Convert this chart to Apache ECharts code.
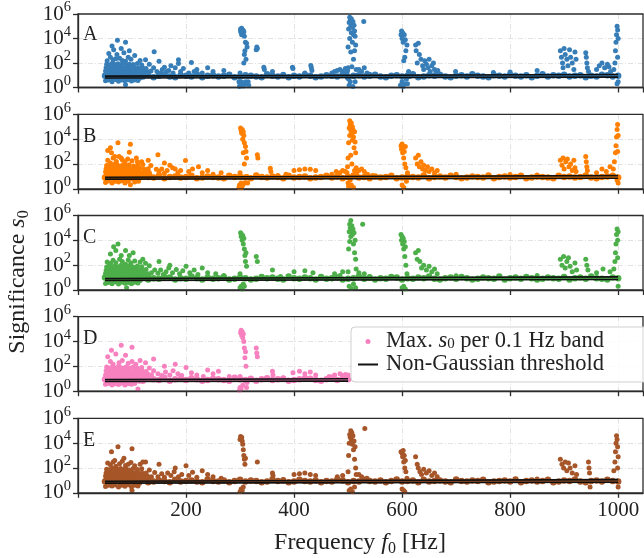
<!DOCTYPE html>
<html>
<head>
<meta charset="utf-8">
<script src="https://cdn.jsdelivr.net/npm/echarts@6/dist/echarts.min.js"></script>
<style>html,body{margin:0;padding:0;background:#fff}#c{width:644px;height:558px}</style>
</head>
<body>
<div id="c"></div>
<script>
// ---------------- DATA ----------------
const panelLetters = ['A', 'B', 'C', 'D', 'E'];
const xTicks = [200, 400, 600, 800, 1000];
const yTickExps = [0, 2, 4, 6];

// frequencies of the dense band of points sitting on the threshold
const bandFreqs = [50,60,70,80,90,100,110,120,130,140,150,160,170,180,190,200,210,220,230,240,250,260,270,280,290,300,310,320,330,340,350,360,370,380,390,400,410,420,430,440,450,460,470,480,490,500,510,520,530,540,550,560,570,580,590,600,610,620,630,640,650,660,670,680,690,700,710,720,730,740,750,760,770,780,790,800,810,820,830,840,850,860,870,880,890,900,910,920,930,940,950,960,970,980,990,1000];

const bandA = [9,7,10,8,11,7,9,8,10,7,9,11,8,7,10,9,8,12,7,9,10,8,9,11,7,8,10,9,8,7,12,9,8,10,7,9,8,11,9,7,8,10,9,8,12,7,9,10,8,9,11,8,7,9,10,8,9,12,7,8,10,9,11,8,7,9,10,8,12,9,8,7,10,9,8,11,9,8,10,7,9,12,8,10,9,11,8,9,10,7,9,8,11,10,8,9];
const bandB = [8,10,7,9,11,8,7,10,9,8,12,7,9,10,8,9,11,7,8,10,9,8,7,11,9,10,8,7,12,9,8,10,9,7,11,8,9,10,7,8,9,11,8,10,7,9,12,8,9,7,10,8,9,11,7,8,10,9,8,12,7,9,10,8,11,9,7,8,10,9,8,12,7,9,10,8,9,11,7,8,10,9,8,7,11,9,10,8,9,12,8,7,9,10,11,8];
const bandC = [10,8,9,7,11,9,8,10,7,9,8,11,10,7,9,8,12,9,7,10,8,9,11,7,8,10,9,7,8,11,9,10,8,7,12,9,8,10,9,7,11,8,9,10,7,8,9,12,8,10,7,9,8,11,10,7,9,8,10,9,12,8,7,9,10,8,11,9,7,8,10,9,8,12,7,9,10,8,11,9,7,8,10,9,8,11,7,9,10,8,12,9,8,7,10,9];
const bandD = [9,8,10,7,11,9,8,7,10,9,8,12,7,9,10,8,11,9,7,8,10,9,8,7,12,9,8,10,7,9,11,8,9,10,7,8,9,11,10,8,7,9,12,8,10,9];
const bandE = [8,9,11,7,10,8,9,12,7,8,10,9,7,11,8,9,10,8,7,12,9,8,10,7,9,11,8,10,9,7,8,12,9,10,7,8,11,9,8,10,7,9,8,12,10,7,9,8,11,9,8,10,7,9,12,8,9,10,7,11,8,9,10,8,7,12,9,8,10,9,11,7,8,9,10,8,12,7,9,10,8,9,11,7,8,10,9,12,8,7,9,10,8,11,9,8];

// scattered maxima [frequency Hz, s0]
const pointsA = [
 [51,3.5],[57,4],[63,3],[69,4.5],[75,3.2],[81,4],[87,3.6],[93,4.2],[99,3.4],[105,4],[111,3.8],
 [54,6],[66,6.5],[78,5.5],[90,6],[102,6.4],[114,5.6],
 [52,12],[56,14],[61,11],[65,13],[70,12],[74,15],[79,11],[83,13],[88,12],[92,14],[97,11],[101,13],[106,12],[112,14],[118,12],[124,11],[130,13],
 [51,22],[55,25],[59,20],[64,24],[68,21],[73,23],[77,26],[82,20],[86,24],[91,22],[95,25],[100,21],[104,23],[110,20],[116,24],[122,22],[128,19],[135,22],
 [52,40],[57,45],[62,38],[66,42],[71,48],[76,40],[80,44],[85,38],[90,46],[94,40],[99,36],[105,42],[112,38],[119,44],[126,36],[140,40],
 [53,80],[58,70],[63,90],[68,75],[74,85],[79,72],[84,95],[89,70],[95,80],[102,75],[110,90],[118,70],[132,80],
 [54,150],[60,300],[65,180],[70,220],[77,250],[82,160],[88,140],[93,300],[98,200],[105,400],[115,160],[125,180],[150,140],
 [57,600],[63,2500],[66,1200],[72,500],[73,7300],[80,1500],[85,700],[88,5000],[95,1000],[141,830],[88,1.7],
 [146,20],[153,15],[156,30],[160,45],[164,20],[168,25],[172,60],[176,15],[180,40],[186,180],[186,90],[190,20],[195,35],[205,15],[210,110],[215,20],[220,30],[230,15],[240,40],[250,20],[270,25],
 [298,3],[299,1.2],[300,15],[300,1.5],[301,40000],[301,60000],[302,30000],[302,3],[303,70000],[303,20000],[304,50000],[304,2],[305,8],[305,25000],[306,45000],[306,1.3],[307,100],[307,35000],[308,15000],[308,500],[309,2],[309,1000],[310,5000],[310,3],[311,200],[312,4000],[313,2000],[314,8],[315,3],[316,1.5],
 [330,1200],[331,2000],[332,1500],[344,45],[345,30],[360,20],[380,12],[397,45],[398,35],[420,15],[431,62],[432,40],[433,25],
 [470,15],[475,20],[480,25],[485,30],[490,20],[495,35],[498,15],[499,25],[500,40],[500,2000],[501,60000],[501,5],[502,200000],[502,1.5],[503,550000],[503,10000],[504,300000],[504,3],[505,100000],[505,800],[506,400000],[506,30000],[507,150000],[507,50],[508,80000],[508,5000],[509,250000],[509,1.2],[510,20000],[510,200],[511,120000],[511,8],[512,40000],[512,1000],[513,15000],[513,3],[514,3000],[515,30],[516,10],[529,250000],[520,30],[525,20],[530,40],[535,15],[540,12],
 [597,1.5],[598,20000],[599,40000],[600,3],[600,10000],[601,30000],[602,5000],[602,1.2],[603,150],[604,20000],[605,2],[605,300],[606,8000],[607,1000],[608,5],[609,3000],[610,2],[612,20],[614,8],
 [625,3000],[626,1000],[628,100],[630,4000],[632,500],[635,200],[638,60],[640,30],[642,150],[645,80],[648,40],[650,200],[652,20],[655,60],[658,100],[660,30],[663,15],[666,25],
 [699,20],[769,17],[800,18],[850,25],
 [893,1000],[895,300],[897,100],[898,40],[900,1500],[902,500],[905,200],[907,60],[910,1200],[912,300],[915,100],[918,30],[920,800],[922,200],
 [940,700],[941,300],[942,100],[943,40],[945,20],[960,30],[965,60],[970,100],[975,40],[980,80],[983,50],[986,20],
 [992,30],[994,100],[995,1000],[996,5000],[997,20000],[998,100000],[999,50000],[1000,10000],[999,300],[1000,3],[998,2]
];

const pointsB = [
 [51,3.2],[57,4.2],[63,3],[69,4],[75,3.5],[81,4.4],[87,3],[93,4],[97,2.1],[105,3.6],[112,4],
 [53,6],[65,6.5],[77,5.6],[89,6],[101,6.2],[113,5.8],
 [52,13],[56,11],[60,14],[65,12],[69,15],[74,11],[78,13],[83,12],[87,14],[92,11],[96,13],[101,12],[107,14],[113,11],[119,13],[126,12],[133,14],
 [51,24],[55,20],[60,26],[64,22],[69,25],[73,20],[78,23],[82,26],[87,21],[91,24],[96,20],[101,23],[106,22],[113,25],[119,20],[125,23],[132,21],
 [52,42],[56,38],[61,46],[66,40],[70,44],[75,38],[80,48],[85,40],[90,36],[95,44],[100,40],[107,38],[114,46],[122,40],[130,42],[145,38],
 [53,75],[58,85],[63,70],[68,95],[73,80],[78,70],[84,90],[89,75],[95,85],[103,70],[111,80],[120,90],[135,75],
 [55,200],[60,120],[65,300],[71,160],[76,400],[82,220],[87,150],[92,250],[100,180],[108,300],[118,150],[130,200],[160,120],
 [55,1200],[60,2000],[62,800],[68,400],[74,5200],[80,300],[95,890],[97,3900],[110,150],[148,540],[170,80],
 [150,25],[155,40],[160,18],[165,30],[175,50],[180,40],[185,20],[190,30],[199,190],[205,25],[212,40],[223,60],[230,20],[240,30],[250,15],[265,20],
 [298,1.3],[299,2],[300,20],[300,1.5],[301,80000],[302,50000],[302,3],[303,30000],[303,1.2],[304,60000],[305,10000],[305,2],[306,40000],[306,800],[307,20000],[308,5000],[308,100],[309,3],[310,2500],[311,1000],[312,300],[313,10],[314,3],
 [332,540],[333,300],[356,45],[357,25],[370,12],[385,15],[400,30],[410,35],[420,40],[430,38],[440,30],
 [470,15],[478,25],[485,20],[490,30],[495,25],[498,20],[499,60],[500,300],[500,3],[501,5000],[501,1.5],[502,80000],[503,300000],[503,20000],[504,150000],[504,5],[505,50000],[505,500],[506,200000],[506,2],[507,30000],[507,100],[508,100000],[508,8000],[509,60000],[510,15000],[510,1.3],[511,2000],[512,40000],[512,30],[513,6000],[514,800],[515,50],[516,20],[520,30],[525,40],[530,25],[536,15],[545,12],
 [598,3000],[599,1500],[600,4000],[601,800],[602,2000],[603,300],[604,1000],[605,100],[606,2500],[607,50],[600,2],[603,1.3],[608,4],[610,20],[612,8],
 [625,300],[628,100],[630,500],[632,60],[635,150],[638,40],[640,80],[643,30],[647,60],[650,25],[655,40],[660,20],[665,30],
 [700,15],[760,12],[800,14],[850,13],
 [893,200],[896,80],[898,300],[900,40],[903,150],[906,250],[909,60],[912,100],[915,30],[918,200],[920,50],[922,25],
 [940,400],[941,150],[942,60],[943,30],[960,20],[970,40],[978,25],[985,60],
 [991,40],[993,150],[995,800],[996,3000],[997,15000],[998,60000],[999,150000],[1000,20000],[999,1000],[998,5],[1000,3]
];

const pointsC = [
 [51,3.4],[57,4],[63,3.2],[69,4.4],[75,3],[81,4.2],[87,3.5],[93,4],[99,3.2],[105,4.2],[111,3.6],
 [55,6],[67,6.4],[79,5.6],[91,6.2],[103,6],[115,5.8],
 [52,14],[56,12],[61,13],[65,11],[70,14],[74,12],[79,13],[83,11],[88,15],[92,12],[97,13],[101,11],[106,14],[112,12],[118,13],[124,12],[131,14],
 [51,21],[55,24],[59,22],[64,26],[68,20],[73,24],[77,22],[82,25],[86,20],[91,23],[95,22],[100,26],[104,20],[110,24],[116,21],[122,23],[129,20],[136,24],
 [52,38],[57,44],[62,40],[66,46],[71,38],[76,42],[80,40],[85,46],[90,38],[94,42],[99,40],[105,44],[112,40],[119,38],[126,44],[142,40],
 [53,70],[58,90],[63,75],[68,85],[74,70],[79,95],[84,80],[89,72],[95,90],[102,70],[110,85],[118,75],[132,90],
 [54,180],[60,140],[65,250],[70,160],[77,300],[82,200],[88,120],[93,260],[98,150],[105,220],[115,180],[125,140],[150,200],
 [60,800],[66,3000],[70,1500],[74,5000],[80,600],[88,1500],[95,600],[102,1000],[120,300],[170,100],[90,1.5],
 [148,22],[153,40],[158,18],[163,30],[168,60],[175,25],[182,45],[188,20],[194,35],[200,80],[207,25],[215,40],[222,18],[230,60],[240,25],[255,20],[270,15],
 [300,1.5],[302,2],[304,1.2],[306,3],[308,2],[300,20],[301,40000],[302,20000],[303,30000],[304,10000],[305,25000],[306,5000],[307,15000],[308,2000],[309,600],[310,200],[311,1000],[312,80],
 [330,500],[332,200],[360,40],[375,12],[400,30],[420,35],[435,25],
 [475,20],[485,15],[490,30],[500,30],[501,2000],[502,50000],[502,2],[503,200000],[503,8000],[504,100000],[505,400000],[505,20000],[506,60000],[506,1.3],[507,150000],[508,30000],[509,80000],[510,5000],[510,3],[511,40000],[512,1000],[513,10000],[514,300],[514,1.5],[515,50],[527,200000],[520,25],[530,20],[540,12],
 [598,30000],[599,10000],[600,20000],[601,5000],[602,15000],[603,2000],[604,8000],[605,500],[606,3000],[607,100],[600,1.5],[603,2],[606,1.2],[609,20],[612,8],
 [625,1000],[628,300],[630,1500],[633,200],[636,60],[640,100],[645,40],[650,80],[655,30],[660,50],[665,20],
 [700,14],[780,12],[850,15],
 [893,300],[896,100],[899,500],[902,60],[905,200],[908,400],[911,80],[915,30],[920,150],[923,40],
 [940,300],[942,100],[944,40],[960,25],[972,50],[985,30],
 [992,50],[994,200],[995,1000],[996,5000],[997,30000],[998,80000],[999,10000],[1000,50000],[999,400],[1000,2]
];

const pointsD = [
 [51,3.6],[57,4.2],[63,3.2],[69,4],[75,3.4],[81,4.4],[87,3.2],[93,4],[99,3.6],[105,4.2],[111,1.5],
 [54,6.2],[66,5.8],[78,6.4],[90,5.6],[102,6],[114,6.2],
 [52,11],[56,13],[61,12],[65,14],[70,11],[74,13],[79,12],[83,14],[88,11],[92,13],[97,12],[101,14],[106,11],[112,13],[118,14],[124,12],[131,11],
 [51,20],[55,23],[59,26],[64,21],[68,24],[73,22],[77,20],[82,25],[86,22],[91,20],[95,24],[100,22],[104,26],[110,21],[116,23],[122,20],[129,24],[136,21],
 [52,44],[57,40],[62,36],[66,44],[71,40],[76,46],[80,38],[85,42],[90,40],[94,46],[99,38],[105,40],[112,44],[119,40],[126,38],[140,44],
 [53,90],[58,75],[63,80],[68,70],[74,95],[79,80],[84,70],[89,88],[95,75],[102,90],[110,70],[118,80],[132,75],
 [55,600],[60,250],[65,150],[70,1000],[76,200],[82,300],[88,800],[93,180],[100,250],[107,150],[115,300],[125,200],[140,400],
 [62,2000],[80,5000],[100,3500],[160,100],[180,150],[200,80],[240,50],[260,40],
 [148,25],[155,18],[162,35],[170,20],[176,45],[185,25],[192,18],[210,30],[220,20],[232,15],[250,25],[280,15],
 [299,1.2],[300,2],[300,15],[301,50000],[302,80000],[302,1.5],[303,30000],[304,60000],[305,20000],[305,3],[306,40000],[307,10000],[308,3000],[309,500],[310,1500],[311,100],[312,2],[313,5],
 [330,3000],[331,1200],[332,600],[360,40],[361,20],[380,12],[398,30],[410,40],[420,25],[430,35],[440,20],[465,15],[475,20],[485,25],[490,18],[495,22],[500,20]
];

const pointsE = [
 [51,3.2],[57,4],[63,3.6],[69,4.2],[75,3],[81,4],[87,3.4],[93,4.4],[99,3],[105,4],[111,3.5],
 [54,5.8],[66,6.2],[78,6],[90,5.6],[102,6.4],[114,6],
 [52,13],[56,12],[61,14],[65,11],[70,13],[74,12],[79,14],[83,11],[88,13],[92,12],[97,14],[101,11],[106,13],[112,12],[118,14],[124,11],[131,13],
 [51,23],[55,21],[59,25],[64,20],[68,23],[73,26],[77,21],[82,24],[86,22],[91,26],[95,21],[100,24],[104,22],[110,25],[116,20],[122,24],[129,22],[136,20],
 [52,40],[57,38],[62,44],[66,40],[71,46],[76,38],[80,42],[85,44],[90,40],[94,38],[99,46],[105,40],[112,42],[119,38],[126,40],[142,44],
 [53,80],[58,72],[63,95],[68,70],[74,80],[79,90],[84,75],[89,85],[95,70],[102,90],[110,75],[118,85],[132,70],
 [55,250],[60,180],[65,300],[70,140],[77,220],[82,350],[88,160],[93,200],[98,280],[105,150],[115,200],[125,300],[150,200],
 [62,2000],[68,400],[74,5000],[85,600],[100,3500],[120,300],[180,100],[200,150],[230,60],[100,1.5],
 [148,20],[155,35],[160,18],[166,40],[172,25],[178,50],[186,20],[192,30],[205,25],[212,45],[220,18],[240,30],[250,20],[265,15],
 [300,1.2],[302,2],[304,1.5],[306,3],[300,20000],[301,35000],[302,25000],[303,30000],[304,15000],[305,8000],[306,3000],[307,1000],[308,500],[309,200],[310,600],
 [332,300],[360,40],[361,25],[380,12],[400,30],[410,35],[420,40],[430,30],[440,25],
 [480,20],[490,25],[500,50],[501,1000],[502,10000],[502,1.5],[503,50000],[504,30000],[505,100000],[505,2],[506,20000],[507,70000],[508,8000],[508,1.2],[509,40000],[510,3000],[511,15000],[512,500],[512,3],[513,5000],[514,100],[515,30],[531,150000],[520,30],[525,20],[535,15],
 [598,2000],[600,1500],[601,800],[602,2500],[603,300],[604,1000],[605,100],[606,400],[607,50],[600,2],[603,1.5],[605,1.2],[609,15],
 [625,800],[628,200],[630,100],[633,50],[636,30],[640,80],[645,40],[650,60],[655,25],[660,40],[665,20],
 [700,12],[850,13],
 [893,500],[896,200],[899,100],[902,300],[905,60],[908,250],[911,100],[915,40],[920,150],[923,30],
 [945,300],[946,100],[947,40],[948,3],
 [992,60],[994,300],[995,2000],[996,10000],[997,40000],[998,20000],[999,5000],[1000,800],[999,100],[1000,3]
];

// non-Gaussian threshold (lower and upper edge)
const thrLowFull = [[50, 6], [1000, 7]];
const thrHighFull = [[50, 8.5], [1000, 11.5]];
const thrLowD = [[50, 6], [500, 6.5]];
const thrHighD = [[50, 8.5], [500, 10]];

// ---------------- CHART ----------------
const FONT = '"Liberation Serif", "DejaVu Serif", serif';
const colors = ['#377eb8', '#ff7f00', '#4daf4a', '#f781bf', '#a65628'];
const pointSets = [pointsA, pointsB, pointsC, pointsD, pointsE];
const bandSets = [bandA, bandB, bandC, bandD, bandE];
const thrLows = [thrLowFull, thrLowFull, thrLowFull, thrLowD, thrLowFull];
const thrHighs = [thrHighFull, thrHighFull, thrHighFull, thrHighD, thrHighFull];

const tops = [13, 114.3, 215.5, 316.7, 418.3];
const H = 74.5, LEFT = 78, W = 565;
const gridLine = { color: '#dcdcdc', width: 0.8, type: [5, 2, 1, 2] };
const axisCol = '#2b2b2b';
const TICK_FS = 21;

const grids = [], xAxes = [], yAxes = [], series = [], graphics = [];
tops.forEach((t, i) => {
  grids.push({ left: LEFT, top: t, width: W, height: H, show: true, borderColor: axisCol, borderWidth: 1.3, backgroundColor: 'transparent', containLabel: false, z: 5 });
  xAxes.push({
    gridIndex: i, type: 'value', min: 0, max: 1046, interval: 200,
    axisLine: { show: true, onZero: false, lineStyle: { color: axisCol, width: 1.3 } },
    axisTick: { show: true, length: 5, lineStyle: { color: axisCol, width: 1.3 } },
    axisLabel: { show: i === 4, fontFamily: FONT, fontSize: TICK_FS, color: '#222', margin: 7, showMaxLabel: false,
      formatter: v => (xTicks.indexOf(v) >= 0 ? String(v) : '') },
    splitLine: { show: true, showMinLine: false, showMaxLine: false, lineStyle: gridLine }
  });
  yAxes.push({
    gridIndex: i, type: 'log', logBase: 10, min: 1, max: 1e6, interval: 2,
    axisLine: { show: true, lineStyle: { color: axisCol, width: 1.3 } },
    axisTick: { show: true, length: 5, lineStyle: { color: axisCol, width: 1.3 } },
    minorTick: { show: false },
    axisLabel: { fontFamily: FONT, fontSize: TICK_FS, color: '#222', margin: 7,
      formatter: v => { const e = Math.round(Math.log10(v)); return yTickExps.indexOf(e) >= 0 ? '{b|10}{s|' + e + '}' : ''; },
      rich: { b: { fontFamily: FONT, fontSize: TICK_FS, lineHeight: 28, color: '#222' }, s: { fontFamily: FONT, fontSize: 14.5, lineHeight: 14, verticalAlign: 'top', color: '#222' } } },
    splitLine: { show: true, showMinLine: false, showMaxLine: false, lineStyle: gridLine }
  });
  series.push({
    name: 'sc' + panelLetters[i], type: 'scatter', xAxisIndex: i, yAxisIndex: i,
    data: pointSets[i], symbolSize: 5, itemStyle: { color: colors[i], opacity: 1 }, z: 2, silent: true
  });
  series.push({
    name: 'band' + panelLetters[i], type: 'scatter', xAxisIndex: i, yAxisIndex: i,
    data: bandSets[i].map((v, k) => [bandFreqs[k], v]), symbolSize: 6.5, itemStyle: { color: colors[i], opacity: 1 }, z: 2, silent: true
  });
  series.push({ name: 'thr' + panelLetters[i], type: 'line', xAxisIndex: i, yAxisIndex: i, data: thrLows[i], symbol: 'none', itemStyle: { color: '#111' }, lineStyle: { color: '#111', width: 1.6 }, z: 4, silent: true });
  series.push({ name: 'thrb' + panelLetters[i], type: 'line', xAxisIndex: i, yAxisIndex: i, data: thrHighs[i], symbol: 'none', itemStyle: { color: '#111' }, lineStyle: { color: '#111', width: 1.6 }, z: 4, silent: true });
  graphics.push({ type: 'text', left: 83, top: t + 12, style: { text: panelLetters[i], font: '20px ' + FONT, fill: '#222' } });
});

const titleRich = {
  t: { fontFamily: FONT, fontSize: 24, lineHeight: 28, fill: '#222' },
  i: { fontFamily: FONT, fontStyle: 'italic', fontSize: 24, lineHeight: 28, fill: '#222' },
  u: { fontFamily: FONT, fontSize: 16, lineHeight: 16, verticalAlign: 'bottom', fill: '#222' }
};
graphics.push({ type: 'text', x: 360, y: 543, style: { text: '{t|Frequency }{i|f}{u|0}{t| [Hz]}', align: 'center', verticalAlign: 'middle', rich: titleRich } });
graphics.push({ type: 'text', x: 18, y: 282, rotation: Math.PI / 2, style: { text: '{t|Significance }{i|s}{u|0}', align: 'center', verticalAlign: 'middle', rich: titleRich } });
// legend frame (extends past the right edge, as in the reference)
graphics.push({ type: 'rect', z: 50, shape: { x: 351, y: 327, width: 310, height: 55, r: 4 },
  style: { fill: 'rgba(255,255,255,0.85)', stroke: '#cfcfcf', lineWidth: 1 } });

const LFS = 22.5;
const chart = echarts.init(document.getElementById('c'), null, { renderer: 'canvas' });
chart.setOption({
  animation: false,
  backgroundColor: '#fff',
  grid: grids, xAxis: xAxes, yAxis: yAxes, series: series, graphic: graphics,
  legend: {
    z: 60,
    data: [{ name: 'scD', icon: 'circle' }, { name: 'thrD', itemStyle: { opacity: 0 } }],
    left: 352, top: 330, orient: 'vertical', selectedMode: false,
    itemWidth: 20, itemHeight: 5, itemGap: 0,
    padding: [0, 0, 0, 5],
    backgroundColor: 'transparent', borderWidth: 0,
    formatter: n => n === 'scD' ? '{t|Max. }{i|s}{u|0}{t| per 0.1 Hz band}' : '{t|Non-Gaussian threshold}',
    textStyle: { fontFamily: FONT, fontSize: LFS, color: '#222', padding: [0, 0, 0, 3],
      rich: { t: { fontFamily: FONT, fontSize: LFS, lineHeight: 21, color: '#222' }, i: { fontFamily: FONT, fontStyle: 'italic', fontSize: LFS, lineHeight: 21, color: '#222' }, u: { fontFamily: FONT, fontSize: 15, lineHeight: 14, verticalAlign: 'bottom', color: '#222' } } }
  }
});
</script>
</body>
</html>
